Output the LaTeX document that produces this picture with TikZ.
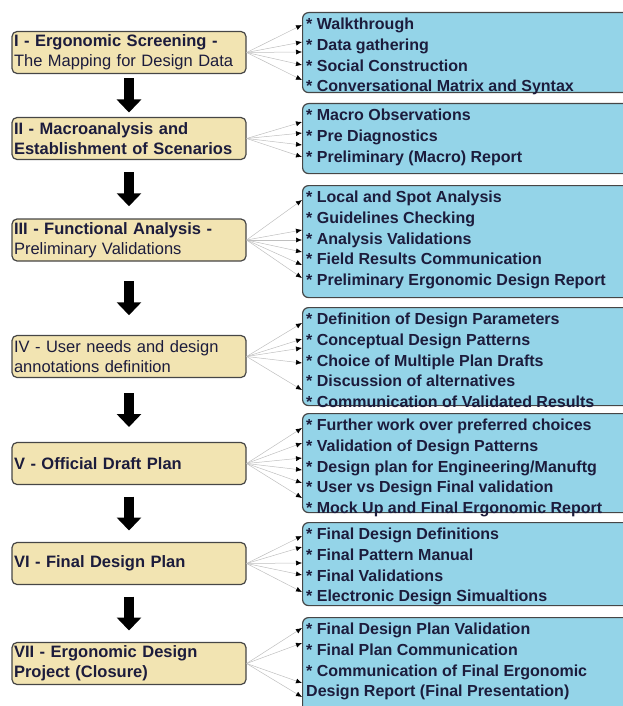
\documentclass[tikz,border=0pt]{standalone}
\usepackage{fontspec}
\setmainfont{Liberation Sans}
\usetikzlibrary{arrows.meta, calc, positioning}
\definecolor{stagetan}{RGB}{242,228,178}
\definecolor{tasksky}{RGB}{148,212,232}
\definecolor{boxedge}{RGB}{70,70,70}
\definecolor{inkblue}{RGB}{28,28,60}

\begin{document}
\begin{tikzpicture}[x=1pt, y=-1pt,% pixel units, y grows downwards
 stage/.style = {draw=boxedge, line width=1.2pt, rounded corners=5pt,
                 fill=stagetan, text=inkblue,
                 text width=230pt, align=left, inner xsep=2pt, inner ysep=0pt,
                 minimum height=42pt, font=\fontsize{16.5}{20}\selectfont},
 tasks/.style = {draw=boxedge, line width=1.2pt, rounded corners=6pt,
                 fill=tasksky, minimum width=340pt,
                 anchor=north west, inner sep=0pt},
 items/.style = {anchor=north west, inner sep=0pt, align=left, text=inkblue,
                 font=\fontsize{16}{20.7}\selectfont\bfseries},
  link/.style = {draw=gray!50, line width=0.5pt,
                 -{Latex[color=black, length=6pt, width=5pt]}},
  down/.style = {line width=10pt, -{Triangle[length=13pt, width=24pt]}}
                        ]
	\useasboundingbox (0,0) rectangle (623,706);
	\clip (0,0) rectangle (623,706);

	% stages on the left
	\node[stage] (s1) at (129,52.5) {\textbf{I - Ergonomic Screening -}\\The Mapping for Design Data};
	\node[stage] (s2) at (129,138.5) {\textbf{II - Macroanalysis and}\\\textbf{Establishment of Scenarios}};
	\node[stage] (s3) at (129,240) {\textbf{III - Functional Analysis -}\\Preliminary Validations};
	\node[stage] (s4) at (129,356.5) {IV - User needs and design\\annotations definition};
	\node[stage] (s5) at (129,463.5) {\textbf{V - Official Draft Plan}};
	\node[stage] (s6) at (129,563.5) {\textbf{VI - Final Design Plan}};
	\node[stage] (s7) at (129,663.5) {\textbf{VII - Ergonomic Design}\\\textbf{Project (Closure)}};

	% thick arrows, centred in the gaps
	\foreach \a/\b in {s1/s2, s2/s3, s3/s4, s4/s5, s5/s6, s6/s7}{
		\coordinate (m) at ($(\a.south)!0.5!(\b.north)$);
		\draw[down] ($(m)+(0,-17)$) -- ($(m)+(0,17)$);
	}

	% task boxes on the right
	\node[tasks, minimum height=80pt]  (t1) at (302,12)  {};
	\node[tasks, minimum height=70pt]  (t2) at (302,103) {};
	\node[tasks, minimum height=112pt] (t3) at (302,185) {};
	\node[tasks, minimum height=98pt]  (t4) at (302,307) {};
	\node[tasks, minimum height=99pt]  (t5) at (302,413) {};
	\node[tasks, minimum height=83pt]  (t6) at (302,522) {};
	\node[tasks, minimum height=103pt] (t7) at (302,617) {};

	\node[items] (l1) at ($(t1.north west)+(4,3.2)$) {\strut* Walkthrough\\* Data gathering\\* Social Construction\\* Conversational Matrix and Syntax};
	\node[items] (l2) at ($(t2.north west)+(4,3.2)$) {\strut* Macro Observations\\* Pre Diagnostics\\* Preliminary (Macro) Report};
	\node[items] (l3) at ($(t3.north west)+(4,3.2)$) {\strut* Local and Spot Analysis\\* Guidelines Checking\\* Analysis Validations\\* Field Results Communication\\* Preliminary Ergonomic Design Report};
	\node[items] (l4) at ($(t4.north west)+(4,3.2)$) {\strut* Definition of Design Parameters\\* Conceptual Design Patterns\\* Choice of Multiple Plan Drafts\\* Discussion of alternatives\\* Communication of Validated Results};
	\node[items] (l5) at ($(t5.north west)+(4,3.2)$) {\strut* Further work over preferred choices\\* Validation of Design Patterns\\* Design plan for Engineering/Manuftg\\* User vs Design Final validation\\* Mock Up and Final Ergonomic Report};
	\node[items] (l6) at ($(t6.north west)+(4,3.2)$) {\strut* Final Design Definitions\\* Final Pattern Manual\\* Final Validations\\* Electronic Design Simualtions};
	\node[items] (l7) at ($(t7.north west)+(4,3.2)$) {\strut* Final Design Plan Validation\\* Final Plan Communication\\* Communication of Final Ergonomic\\Design Report (Final Presentation)};

	% fan of links from each stage
	\foreach \dy in {13,30,40,53,68}
		\draw[link] (s1.east) -- ($(t1.north west)+(0,\dy)$);
	\foreach \dy in {19,30,42,54}
		\draw[link] (s2.east) -- ($(t2.north west)+(0,\dy)$);
	\foreach \dy in {15,45,55,67,80,93}
		\draw[link] (s3.east) -- ($(t3.north west)+(0,\dy)$);
	\foreach \dy in {16,32,41,56,83}
		\draw[link] (s4.east) -- ($(t4.north west)+(0,\dy)$);
	\foreach \dy in {15,30,45,57,70,85}
		\draw[link] (s5.east) -- ($(t5.north west)+(0,\dy)$);
	\foreach \dy in {14,25,41,53,70}
		\draw[link] (s6.east) -- ($(t6.north west)+(0,\dy)$);
	\foreach \dy in {11,26,66,80}
		\draw[link] (s7.east) -- ($(t7.north west)+(0,\dy)$);
\end{tikzpicture}
\end{document}
